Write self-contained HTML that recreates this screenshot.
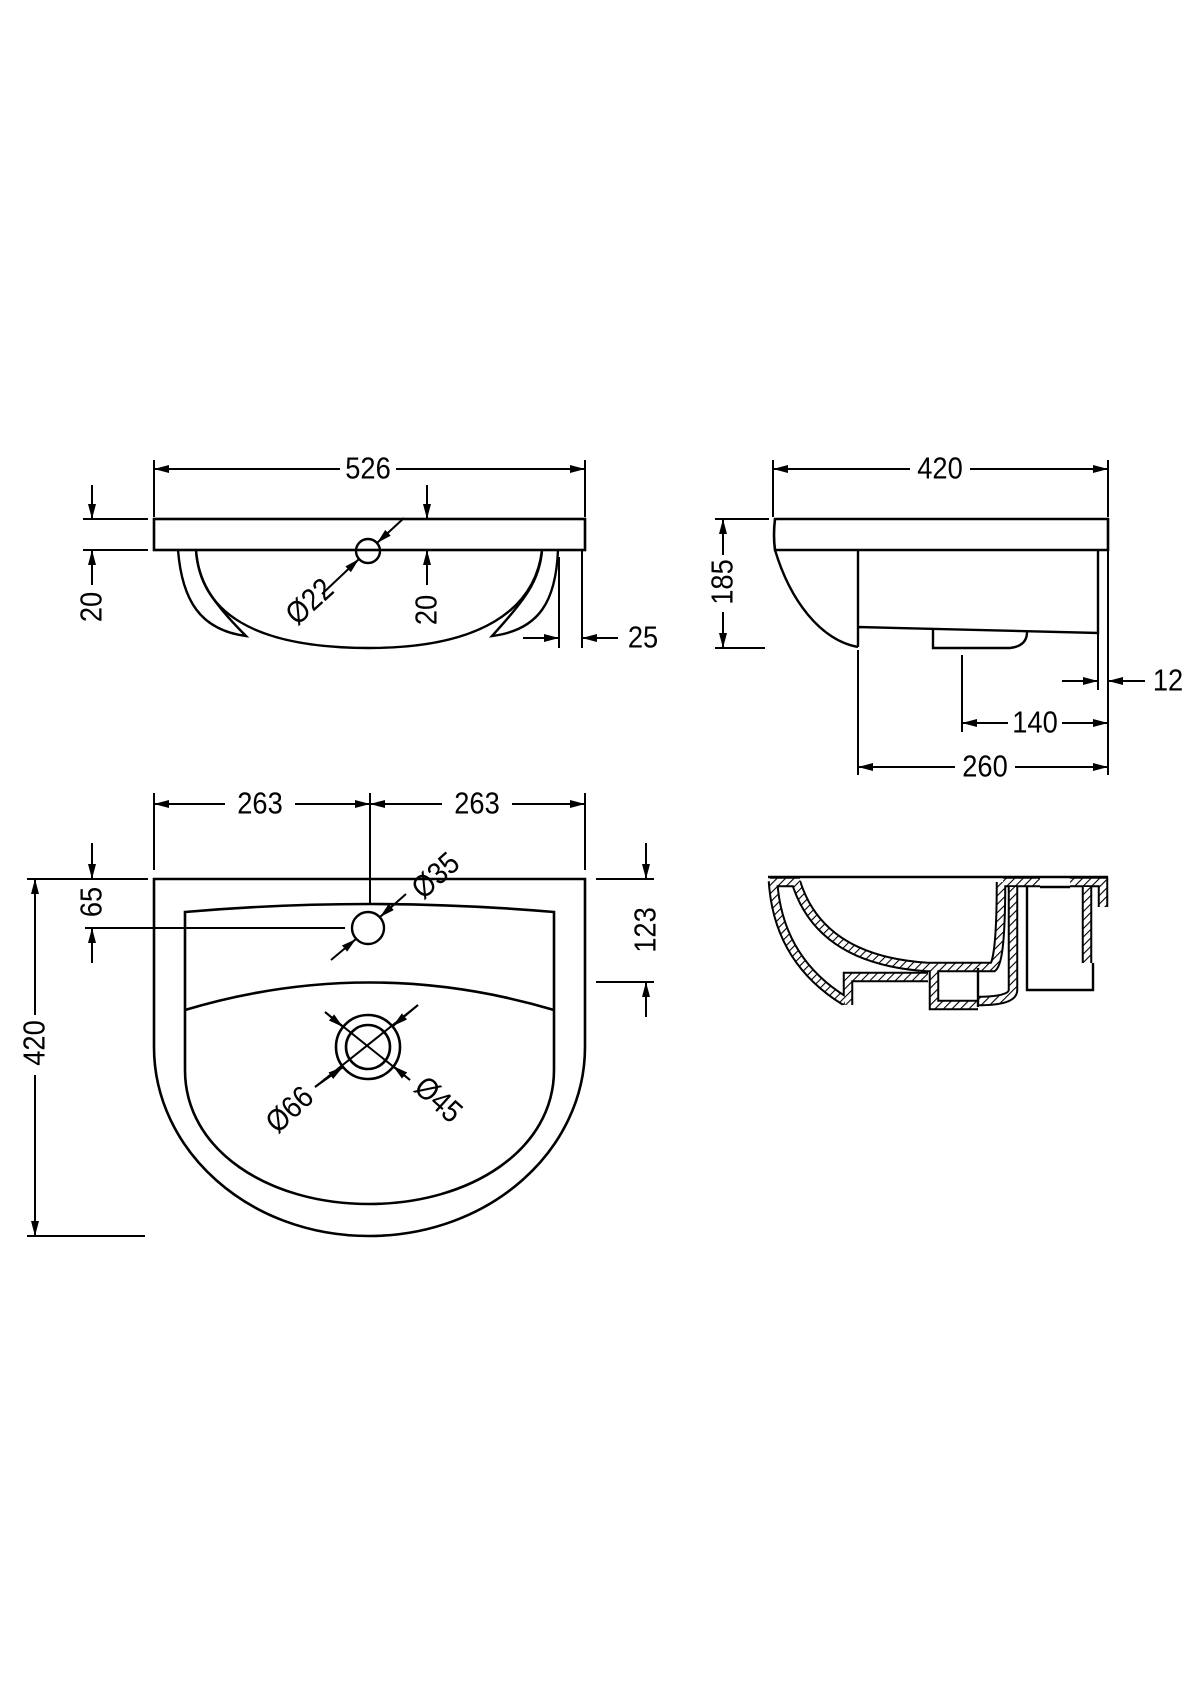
<!DOCTYPE html>
<html><head><meta charset="utf-8"><style>
html,body{margin:0;padding:0;background:#fff;}
svg{display:block;}
text{font-family:"Liberation Sans",sans-serif;font-size:31px;fill:#000;}
</style></head><body>
<svg width="1200" height="1698" viewBox="0 0 1200 1698" xmlns="http://www.w3.org/2000/svg">
<defs>
<marker id="a" viewBox="0 0 15 8" refX="15" refY="4" markerWidth="15" markerHeight="8" markerUnits="userSpaceOnUse" orient="auto"><path d="M0,0 L15,4 L0,8 Z" fill="#000"/></marker>
<pattern id="h" width="6" height="6" patternUnits="userSpaceOnUse" patternTransform="rotate(45)"><rect width="6" height="6" fill="#fff"/><line x1="0" y1="0" x2="0" y2="6" stroke="#000" stroke-width="2.2"/></pattern>
</defs>
<g fill="none" stroke="#000" stroke-width="2">
<line x1="340" y1="469" x2="154" y2="469" marker-end="url(#a)"/>
<line x1="396" y1="469" x2="585" y2="469" marker-end="url(#a)"/>
<line x1="154" y1="460" x2="154" y2="517"/><line x1="585" y1="460" x2="585" y2="517"/>
<rect x="154" y="519" width="431" height="31" stroke-width="2.6"/>
<line x1="83" y1="519" x2="148" y2="519"/><line x1="83" y1="550" x2="148" y2="550"/>
<line x1="92" y1="485" x2="92" y2="519" marker-end="url(#a)"/>
<line x1="92" y1="585" x2="92" y2="550" marker-end="url(#a)"/>
<line x1="427" y1="485" x2="427" y2="519" marker-end="url(#a)"/>
<line x1="427" y1="585" x2="427" y2="550" marker-end="url(#a)"/>
<path d="M178,550 C182,600 200,630 246,636 C210,600 198,580 196,550" stroke-width="2.4"/>
<path d="M196,550 C200,610 250,648 369,648 C480,648 535,610 542,550" stroke-width="2.4"/>
<path d="M558,550 C556,600 540,630 492,636 C525,600 540,580 542,550" stroke-width="2.4"/>
<circle cx="368" cy="551" r="12" stroke-width="2.4"/>
<line x1="404" y1="518" x2="377" y2="543" marker-end="url(#a)"/>
<line x1="322" y1="594" x2="359" y2="559" marker-end="url(#a)"/>
<line x1="559" y1="557" x2="559" y2="648"/><line x1="582" y1="550" x2="582" y2="648"/>
<line x1="523" y1="638" x2="559" y2="638" marker-end="url(#a)"/>
<line x1="618" y1="638" x2="582" y2="638" marker-end="url(#a)"/>
<line x1="910" y1="469" x2="773" y2="469" marker-end="url(#a)"/>
<line x1="970" y1="469" x2="1108" y2="469" marker-end="url(#a)"/>
<line x1="773" y1="460" x2="773" y2="517"/><line x1="1108" y1="460" x2="1108" y2="517"/>
<path d="M775,519 L1108,519 L1108,550 L775,550 Q773,535 775,519 Z" stroke-width="2.6"/>
<path d="M775,550 C790,600 820,640 858,647" stroke-width="2.4"/>
<path d="M858,550 L858,647 M858,627 L1098,633 L1098,550" stroke-width="2.4"/>
<path d="M933,630 L933,648 L1010,648 Q1027,646 1027,632" stroke-width="2.4"/>
<line x1="715" y1="519" x2="769" y2="519"/><line x1="715" y1="648" x2="765" y2="648"/>
<line x1="723" y1="555" x2="723" y2="519" marker-end="url(#a)"/>
<line x1="723" y1="612" x2="723" y2="648" marker-end="url(#a)"/>
<line x1="1098" y1="633" x2="1098" y2="690"/><line x1="1108" y1="550" x2="1108" y2="775"/>
<line x1="1062" y1="681" x2="1098" y2="681" marker-end="url(#a)"/>
<line x1="1145" y1="681" x2="1108" y2="681" marker-end="url(#a)"/>
<line x1="962" y1="655" x2="962" y2="732"/>
<line x1="1008" y1="723" x2="962" y2="723" marker-end="url(#a)"/>
<line x1="1062" y1="723" x2="1108" y2="723" marker-end="url(#a)"/>
<line x1="858" y1="650" x2="858" y2="775"/>
<line x1="955" y1="767" x2="858" y2="767" marker-end="url(#a)"/>
<line x1="1015" y1="767" x2="1108" y2="767" marker-end="url(#a)"/>
<line x1="225" y1="804" x2="154" y2="804" marker-end="url(#a)"/>
<line x1="295" y1="804" x2="370" y2="804" marker-end="url(#a)"/>
<line x1="442" y1="804" x2="370" y2="804" marker-end="url(#a)"/>
<line x1="512" y1="804" x2="585" y2="804" marker-end="url(#a)"/>
<line x1="154" y1="793" x2="154" y2="870"/><line x1="370" y1="793" x2="370" y2="905"/><line x1="585" y1="793" x2="585" y2="870"/>
<line x1="27" y1="879" x2="148" y2="879"/><line x1="596" y1="879" x2="654" y2="879"/>
<path d="M154,879 L585,879 L585,1047 C585,1150 490,1236 369,1236 C248,1236 154,1150 154,1047 Z" stroke-width="2.6"/>
<path d="M185,912 Q369,896 554,912 L554,1070 C554,1150 470,1204 369,1204 C268,1204 185,1150 185,1070 Z" stroke-width="2.6"/>
<path d="M185,1010 Q369,955 554,1010" stroke-width="2.6"/>
<line x1="35" y1="1015" x2="35" y2="879" marker-end="url(#a)"/>
<line x1="35" y1="1075" x2="35" y2="1236" marker-end="url(#a)"/>
<line x1="27" y1="1236" x2="145" y2="1236"/>
<line x1="92" y1="843" x2="92" y2="879" marker-end="url(#a)"/>
<line x1="92" y1="963" x2="92" y2="928" marker-end="url(#a)"/>
<line x1="85" y1="928" x2="345" y2="928"/>
<line x1="646" y1="843" x2="646" y2="879" marker-end="url(#a)"/>
<line x1="646" y1="1017" x2="646" y2="982" marker-end="url(#a)"/>
<line x1="596" y1="982" x2="654" y2="982"/>
<circle cx="368" cy="928" r="16" stroke-width="2.4"/>
<line x1="406" y1="894" x2="380" y2="917" marker-end="url(#a)"/>
<line x1="331" y1="960" x2="356" y2="939" marker-end="url(#a)"/>
<circle cx="368" cy="1047" r="32" stroke-width="2.6"/>
<circle cx="368" cy="1047" r="22" stroke-width="2.6"/>
<line x1="325" y1="1012" x2="410" y2="1080"/>
<line x1="418" y1="1005" x2="315" y2="1087"/>
<line x1="325" y1="1012" x2="343" y2="1027" marker-end="url(#a)"/>
<line x1="410" y1="1080" x2="393" y2="1066" marker-end="url(#a)"/>
<line x1="418" y1="1005" x2="393" y2="1026" marker-end="url(#a)"/>
<line x1="315" y1="1087" x2="343" y2="1067" marker-end="url(#a)"/>
</g>
<g fill="none" stroke-linejoin="miter">
<g stroke="#000" stroke-width="10.5">
<path d="M773,881 Q778,960 845,1001"/>
<path d="M796,882 Q820,960 927,967 L993,967 Q1001,960 1001,882"/>
<path d="M848,1005 L848,977 L928,977"/>
<path d="M934,968 L934,1005 L978,1005"/>
<path d="M1013,887 L1013,990 Q1013,1001 978,1001"/>
<path d="M1087,887 L1087,963"/>
<path d="M1003,882 L1040,882 M1070,882 L1103,882 L1103,907"/>
<path d="M770,882 L800,882"/>
</g>
<g stroke="url(#h)" stroke-width="6.5">
<path d="M773,881 Q778,960 845,1001"/>
<path d="M796,882 Q820,960 927,967 L993,967 Q1001,960 1001,882"/>
<path d="M848,1005 L848,977 L928,977"/>
<path d="M934,968 L934,1005 L978,1005"/>
<path d="M1013,887 L1013,990 Q1013,1001 978,1001"/>
<path d="M1087,887 L1087,963"/>
<path d="M1003,882 L1040,882 M1070,882 L1103,882 L1103,907"/>
<path d="M770,882 L800,882"/>
</g>
<g stroke="#000" stroke-width="2.4">
<line x1="768" y1="877" x2="1108" y2="877"/>
<path d="M978,968 L978,1007 M1027,887 L1027,990 L1093,990 L1093,963"/>
<path d="M1040,887 L1070,887"/>
</g>
</g>
<g text-anchor="middle" dominant-baseline="central">
<text transform="translate(368,469) scale(0.88,1)">526</text>
<text transform="translate(940,469) scale(0.88,1)">420</text>
<text transform="translate(260,804) scale(0.88,1)">263</text>
<text transform="translate(477,804) scale(0.88,1)">263</text>
<text transform="translate(643,638) scale(0.88,1)">25</text>
<text transform="translate(1168,681) scale(0.88,1)">12</text>
<text transform="translate(1035,723) scale(0.88,1)">140</text>
<text transform="translate(985,767) scale(0.88,1)">260</text>
<text transform="translate(92,607) rotate(-90) scale(0.88,1)">20</text>
<text transform="translate(427,610) rotate(-90) scale(0.88,1)">20</text>
<text transform="translate(723,582) rotate(-90) scale(0.88,1)">185</text>
<text transform="translate(92,902) rotate(-90) scale(0.88,1)">65</text>
<text transform="translate(646,930) rotate(-90) scale(0.88,1)">123</text>
<text transform="translate(35,1043) rotate(-90) scale(0.88,1)">420</text>
<text transform="translate(310,602) rotate(-42) scale(0.88,1)">Ø22</text>
<text transform="translate(436,876) rotate(-42) scale(0.88,1)">Ø35</text>
<text transform="translate(290,1110) rotate(-43) scale(0.88,1)">Ø66</text>
<text transform="translate(438,1100) rotate(42) scale(0.88,1)">Ø45</text>
</g>
</svg>
</body></html>
